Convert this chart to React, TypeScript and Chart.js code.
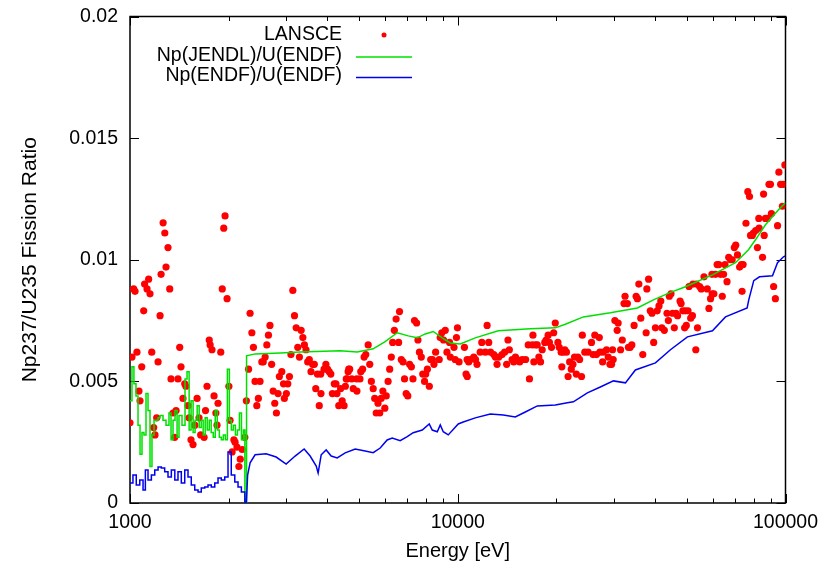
import React, { useEffect, useRef } from 'react';
import { Chart, registerables } from 'chart.js';

Chart.register(...registerables);

const FONT = '"Liberation Sans", Arial, Helvetica, sans-serif';

// LANSCE measurement: [neutron energy (eV), Np237/U235 fission ratio]
const lansce: [number, number][] = [
  [1000, 0.0033], [1014, 0.0060], [1026, 0.0088], [1036, 0.0087], [1050, 0.0062], [1065, 0.0046],
  [1073, 0.0042], [1086, 0.0056], [1101, 0.0079], [1108, 0.0090], [1127, 0.0088], [1140, 0.0092],
  [1151, 0.0086], [1165, 0.0062], [1181, 0.0031], [1192, 0.0028], [1206, 0.0035], [1218, 0.0058],
  [1235, 0.0077], [1244, 0.0094], [1262, 0.01152], [1277, 0.0111], [1288, 0.0097], [1306, 0.0105],
  [1322, 0.0088], [1334, 0.0051], [1353, 0.0037], [1369, 0.0027], [1382, 0.0038], [1401, 0.0051],
  [1418, 0.0064], [1431, 0.0056], [1451, 0.0043], [1469, 0.0049], [1481, 0.0048], [1503, 0.0040],
  [1515, 0.0035], [1535, 0.0026], [1557, 0.0024], [1576, 0.0032], [1602, 0.0043], [1624, 0.0035],
  [1643, 0.0028], [1683, 0.0027], [1700, 0.0038], [1718, 0.0048], [1745, 0.0067], [1756, 0.0065],
  [1779, 0.0063], [1805, 0.0044], [1828, 0.0037], [1843, 0.0032], [1856, 0.0041], [1892, 0.0062],
  [1912, 0.0088], [1932, 0.0113], [1950, 0.0118], [1978, 0.0084], [2003, 0.0048], [2020, 0.0034],
  [2049, 0.0021], [2075, 0.0026], [2092, 0.0025], [2120, 0.0023], [2149, 0.0015], [2170, 0.0018],
  [2200, 0.0022], [2240, 0.0027], [2265, 0.0042], [2300, 0.0055], [2325, 0.0078], [2354, 0.0070],
  [2380, 0.0064], [2407, 0.0050], [2437, 0.0040], [2464, 0.0043], [2493, 0.0050], [2525, 0.0058],
  [2550, 0.0058], [2584, 0.0060], [2615, 0.0065], [2645, 0.0069], [2673, 0.0073], [2705, 0.0057],
  [2734, 0.0046], [2765, 0.0041], [2797, 0.0037], [2830, 0.0045], [2856, 0.0052], [2905, 0.0054],
  [2940, 0.0049], [2958, 0.0043], [3000, 0.0045], [3030, 0.0049], [3065, 0.0052], [3098, 0.0061],
  [3139, 0.00874], [3176, 0.0077], [3214, 0.0072], [3250, 0.0064], [3288, 0.0060], [3328, 0.0071],
  [3368, 0.0068], [3405, 0.0065], [3444, 0.0063], [3485, 0.0058], [3524, 0.0059], [3567, 0.0054],
  [3607, 0.0057], [3650, 0.0057], [3688, 0.0047], [3730, 0.0053], [3780, 0.0040], [3820, 0.0053],
  [3825, 0.0045], [3910, 0.0055], [3960, 0.0057], [4005, 0.0055], [4053, 0.0054], [4100, 0.0053],
  [4145, 0.0045], [4200, 0.0049], [4250, 0.0049], [4280, 0.0045], [4335, 0.0040], [4390, 0.0047],
  [4440, 0.0042], [4500, 0.0040], [4540, 0.0048], [4570, 0.0051], [4600, 0.0051], [4630, 0.0054],
  [4650, 0.0055], [4680, 0.0055], [4750, 0.0051], [4800, 0.0047], [4920, 0.0051], [4925, 0.0046],
  [5030, 0.0051], [5060, 0.0054], [5125, 0.0055], [5180, 0.0060], [5240, 0.0061], [5330, 0.0065],
  [5390, 0.0057], [5450, 0.0050], [5520, 0.0047], [5580, 0.0043], [5640, 0.0037], [5710, 0.0041],
  [5780, 0.0037], [5840, 0.0043], [5910, 0.0046], [5990, 0.0039], [6050, 0.0044], [6130, 0.0050],
  [6200, 0.0055], [6270, 0.0060], [6330, 0.0066], [6405, 0.0071], [6485, 0.00756], [6600, 0.0066],
  [6642, 0.00787], [6725, 0.0059], [6810, 0.0058], [6880, 0.0051], [6960, 0.0045], [7040, 0.0044],
  [7130, 0.0057], [7220, 0.0056], [7300, 0.0051], [7380, 0.0075], [7490, 0.0074], [7560, 0.0067],
  [7640, 0.0062], [7740, 0.0060], [7820, 0.0053], [7920, 0.0050], [7985, 0.0053], [8080, 0.0055],
  [8190, 0.0048], [8270, 0.0059], [8370, 0.0059], [8460, 0.0057], [8560, 0.0062], [8780, 0.0059],
  [8840, 0.0068], [8940, 0.0070], [9050, 0.0067], [9160, 0.0071], [9270, 0.0062], [9440, 0.0066],
  [9490, 0.0060], [9740, 0.0064], [9820, 0.0059], [9910, 0.0068], [9980, 0.0072], [10090, 0.0058],
  [10480, 0.0064], [10600, 0.0053], [10680, 0.0059], [10690, 0.0052], [10800, 0.0058], [10910, 0.0059],
  [11190, 0.0060], [11330, 0.0059], [11450, 0.0057], [11710, 0.0062], [11840, 0.0066], [12140, 0.0062],
  [12290, 0.0073], [12430, 0.0066], [12590, 0.0062], [12880, 0.0061], [13030, 0.0060], [13180, 0.0057],
  [13340, 0.0060], [13650, 0.0061], [13900, 0.0062], [14100, 0.0057], [14230, 0.0067], [14370, 0.0063],
  [14650, 0.0059], [14820, 0.0058], [15000, 0.0060], [15180, 0.0059], [15450, 0.0058], [15730, 0.0059],
  [16110, 0.0059], [16410, 0.0065], [16550, 0.0051], [16880, 0.0065], [16960, 0.0069], [17070, 0.0058],
  [17270, 0.0065], [17480, 0.0065], [17680, 0.0060], [17890, 0.0058], [18100, 0.0063], [18430, 0.0066],
  [18610, 0.0067], [18870, 0.0069], [19040, 0.0066], [19320, 0.0064], [19620, 0.0070], [19840, 0.0074],
  [20210, 0.0066], [20400, 0.0064], [20680, 0.0062], [20780, 0.0056], [20970, 0.0062], [21210, 0.0063],
  [21460, 0.0062], [21710, 0.0052], [21950, 0.0058], [22200, 0.0055], [22460, 0.0057], [22710, 0.0060],
  [23000, 0.0053], [23250, 0.0060], [23540, 0.0059], [23860, 0.0052], [23990, 0.0069], [24420, 0.0062],
  [24990, 0.0062], [25590, 0.0066], [25880, 0.0061], [26200, 0.0069], [26500, 0.0061], [27030, 0.0068],
  [27140, 0.0062], [27670, 0.0058], [27780, 0.0062], [28450, 0.0063], [28780, 0.0060], [29130, 0.0057],
  [29470, 0.0057], [29670, 0.0063], [29800, 0.0059], [30160, 0.0075], [30650, 0.0071], [30860, 0.0074],
  [31390, 0.0063], [31770, 0.0067], [32160, 0.0082], [32390, 0.0085], [32930, 0.0082], [33170, 0.0064],
  [33570, 0.0064], [33970, 0.0065], [34520, 0.0073], [35010, 0.0085], [35330, 0.0084], [35690, 0.0090],
  [36180, 0.0076], [36690, 0.0061], [37570, 0.0070], [37760, 0.0088], [38220, 0.0092], [38680, 0.0079],
  [39150, 0.0078], [39610, 0.0066], [40100, 0.0072], [40600, 0.0079], [41120, 0.0081], [41640, 0.0083],
  [41950, 0.0072], [42690, 0.0071], [43500, 0.0078], [43910, 0.0075], [44220, 0.0085], [44730, 0.0086],
  [45250, 0.0078], [45790, 0.0072], [46320, 0.0078], [46850, 0.0077], [47670, 0.0083], [48020, 0.0082],
  [48620, 0.0079], [49230, 0.0072], [49450, 0.0079], [49810, 0.0073], [50410, 0.0079], [50780, 0.0089],
  [51380, 0.0076], [52000, 0.0077], [52190, 0.0090], [53250, 0.0063], [53440, 0.0090], [53880, 0.0072],
  [54700, 0.0089], [55350, 0.0088], [56410, 0.0093], [57720, 0.0088], [58400, 0.0080], [59070, 0.0084],
  [59640, 0.0094], [59760, 0.0086], [60450, 0.0086], [61170, 0.0094], [61870, 0.0098], [62600, 0.0098],
  [63330, 0.0094], [64140, 0.0085], [64710, 0.0094], [65360, 0.0098], [66310, 0.0091], [67100, 0.0101],
  [67920, 0.0100], [68750, 0.0100], [69800, 0.0105], [70490, 0.0106], [71370, 0.0102], [72440, 0.0097],
  [73330, 0.0098], [73700, 0.0087], [74240, 0.0098], [75750, 0.0115], [76740, 0.0128], [77660, 0.0126],
  [78210, 0.0110], [79200, 0.0110], [79800, 0.0111], [81100, 0.0112], [82100, 0.0105], [82900, 0.0117],
  [83100, 0.0113], [85100, 0.0101], [85720, 0.0127], [86100, 0.0110], [86870, 0.0117], [88000, 0.0117],
  [89050, 0.0131], [89980, 0.0131], [90580, 0.0119], [91990, 0.0089], [93140, 0.0084], [94570, 0.0114],
  [95450, 0.0136], [96640, 0.0131], [97820, 0.0122], [98280, 0.0131], [99570, 0.0139],
];

// Np(JENDL)/U(ENDF): resolved-resonance region as histogram bins (bin start energy, value)
const jendlBinStart = [
  1000, 1014, 1028, 1043, 1058, 1073, 1088, 1103, 1119, 1135, 1151, 1167, 1184, 1201, 1218, 1235,
  1261, 1288, 1315, 1334, 1353, 1372, 1392, 1411, 1441, 1472, 1493, 1515, 1536, 1558, 1580, 1603,
  1626, 1649, 1672, 1696, 1720, 1745, 1769, 1795, 1820, 1846, 1873, 1899, 1926, 1954, 1982, 2010,
  2038, 2067, 2097, 2127, 2157, 2188, 2219,
];
const jendlBinValue = [
  0.0042, 0.0056, 0.0049, 0.0044, 0.0032, 0.0020, 0.0029, 0.0028, 0.0045, 0.0038, 0.0015, 0.0028,
  0.0034, 0.0034, 0.0035, 0.0036, 0.0034, 0.0032, 0.0037, 0.0026, 0.0034, 0.0038, 0.0027, 0.0036,
  0.0032, 0.0051, 0.0054, 0.0030, 0.0042, 0.0029, 0.0034, 0.0040, 0.0031, 0.0034, 0.0028, 0.0035,
  0.0030, 0.0034, 0.0029, 0.0027, 0.0038, 0.0030, 0.0027, 0.0026, 0.0028, 0.0026, 0.0055, 0.0034,
  0.0030, 0.0032, 0.0028, 0.0030, 0.0037, 0.0026, 0.0030,
];
const jendlBinEnd = 2241;
// Np(JENDL)/U(ENDF) above the resonance region: [energy (eV), ratio]
const jendlCurve: [number, number][] = [
  [2241, 0], [2265, 0], [2268, 0.00605], [2408, 0.00613], [2871, 0.00617], [3304, 0.00621],
  [4377, 0.00626], [4932, 0.00621], [5521, 0.00634], [6005, 0.00663], [6537, 0.00700], [7063, 0.00687],
  [7521, 0.00679], [7958, 0.00695], [8419, 0.00705], [8967, 0.00679], [9486, 0.00658], [10177, 0.00654],
  [11310, 0.00679], [13295, 0.00708], [16650, 0.00716], [19850, 0.00720], [21290, 0.00735],
  [24170, 0.00765], [29220, 0.00782], [35330, 0.00802], [39540, 0.00835], [44560, 0.00866],
  [49520, 0.00889], [59860, 0.00938], [70370, 0.00988], [77090, 0.01041], [80990, 0.01082],
  [86870, 0.01144], [95200, 0.01206], [100000, 0.01235],
];

// Np(ENDF)/U(ENDF): resolved-resonance region as histogram bins
const endfBinStart = [
  1000, 1021, 1045, 1071, 1096, 1114, 1135, 1162, 1190, 1218, 1246, 1276, 1306, 1337, 1370, 1401,
  1434, 1469, 1503, 1538, 1576, 1613, 1650, 1691, 1730, 1770, 1814, 1856, 1899, 1946, 1991, 2037,
  2088, 2136, 2187,
];
const endfBinValue = [
  0.00082, 0.00115, 0.00074, 0.00095, 0.00053, 0.00136, 0.00095, 0.00115, 0.00136, 0.00148, 0.00144,
  0.00128, 0.00107, 0.00136, 0.00095, 0.00128, 0.00082, 0.00136, 0.00107, 0.00074, 0.00053, 0.00045,
  0.00062, 0.00066, 0.00074, 0.00066, 0.00082, 0.00103, 0.00095, 0.00107, 0.00210, 0.00115, 0.00086,
  0.00066, 0.00045,
];
const endfBinEnd = 2241;
// Np(ENDF)/U(ENDF) above the resonance region
const endfCurve: [number, number][] = [
  [2241, 0], [2265, 0], [2285, 0.00115], [2325, 0.00165], [2408, 0.00198], [2602, 0.00202],
  [2792, 0.00189], [2995, 0.00160], [3190, 0.00193], [3399, 0.00222], [3545, 0.00193], [3700, 0.00152],
  [3750, 0.00123], [3831, 0.00198], [3968, 0.00218], [4110, 0.00193], [4287, 0.00185], [4535, 0.00206],
  [4864, 0.00222], [5219, 0.00214], [5521, 0.00207], [5799, 0.00226], [6090, 0.00259], [6310, 0.00267],
  [6674, 0.00256], [7012, 0.00273], [7314, 0.00289], [7793, 0.00300], [8185, 0.00325], [8360, 0.00300],
  [8660, 0.00293], [8844, 0.00321], [9031, 0.00293], [9354, 0.00280], [10035, 0.00325], [10394, 0.00333],
  [11310, 0.00350], [12570, 0.00366], [13770, 0.00362], [14985, 0.00354], [16075, 0.00374],
  [17490, 0.00399], [19850, 0.00403], [21600, 0.00412], [22530, 0.00416], [24860, 0.00453],
  [27230, 0.00477], [29850, 0.00502], [32480, 0.00494], [34830, 0.00547], [40100, 0.00576],
  [44560, 0.00630], [50210, 0.00683], [59860, 0.00708], [65600, 0.00765], [76380, 0.00802],
  [77250, 0.00835], [80010, 0.00914], [83280, 0.00930], [91270, 0.00934], [94540, 0.00988],
  [98610, 0.01012], [100000, 0.01016],
];

const xMajorTicks = [1000, 10000, 100000];
const yTicks = [0, 0.005, 0.01, 0.015, 0.02];

const seriesLabels = ['LANSCE', 'Np(JENDL)/U(ENDF)', 'Np(ENDF)/U(ENDF)'];
const seriesColors = ['#ff0000', '#00e000', '#0000f0'];

type Pt = { x: number; y: number };

function histogram(starts: number[], values: number[], end: number): Pt[] {
  const pts: Pt[] = [];
  starts.forEach((s, i) => {
    const next = i + 1 < starts.length ? starts[i + 1] : end;
    pts.push({ x: s, y: values[i] }, { x: next, y: values[i] });
  });
  return pts;
}

const toPts = (arr: [number, number][]): Pt[] => arr.map(([x, y]) => ({ x, y }));

// Closed border with inward tick marks on all four sides
const framePlugin = {
  id: 'frame',
  beforeDatasetsDraw(chart: any) {
    const { ctx, chartArea: a, scales } = chart;
    const xs = scales.x;
    const ys = scales.y;
    const major = 9;
    const minor = 4.5;
    ctx.save();
    ctx.strokeStyle = '#000';
    ctx.lineWidth = 1;
    ctx.beginPath();
    const vtick = (v: number, len: number) => {
      const px = Math.round(xs.getPixelForValue(v)) + 0.5;
      ctx.moveTo(px, a.bottom);
      ctx.lineTo(px, a.bottom - len);
      ctx.moveTo(px, a.top);
      ctx.lineTo(px, a.top + len);
    };
    xMajorTicks.forEach((v) => vtick(v, major));
    for (let d = 0; d < xMajorTicks.length - 1; d++) {
      for (let k = 2; k <= 9; k++) vtick(k * xMajorTicks[d], minor);
    }
    yTicks.forEach((v) => {
      const py = Math.round(ys.getPixelForValue(v)) + 0.5;
      ctx.moveTo(a.left, py);
      ctx.lineTo(a.left + major, py);
      ctx.moveTo(a.right, py);
      ctx.lineTo(a.right - major, py);
    });
    ctx.stroke();
    ctx.lineWidth = 1.5;
    ctx.strokeRect(a.left, a.top, a.right - a.left, a.bottom - a.top);
    ctx.restore();
  },
};

// Key in the upper left of the plot: label right-aligned, sample to its right
const keyPlugin = {
  id: 'key',
  afterDatasetsDraw(chart: any) {
    const { ctx, chartArea: a } = chart;
    ctx.save();
    ctx.font = `19.5px ${FONT}`;
    ctx.textAlign = 'right';
    ctx.textBaseline = 'middle';
    chart.data.datasets.forEach((ds: any, i: number) => {
      const yy = a.top + 18.5 + i * 20.5;
      ctx.fillStyle = '#000';
      ctx.fillText(ds.label, a.left + 212, yy);
      const x0 = a.left + 226;
      const x1 = a.left + 282;
      if (ds.showLine === false) {
        ctx.fillStyle = ds.backgroundColor;
        ctx.beginPath();
        ctx.arc((x0 + x1) / 2, yy, 2.5, 0, Math.PI * 2);
        ctx.fill();
      } else {
        ctx.strokeStyle = ds.borderColor;
        ctx.lineWidth = ds.borderWidth;
        ctx.beginPath();
        ctx.moveTo(x0, yy + 1.5);
        ctx.lineTo(x1, yy + 1.5);
        ctx.stroke();
      }
    });
    ctx.restore();
  },
};

export default function App() {
  const canvasRef = useRef<HTMLCanvasElement | null>(null);

  useEffect(() => {
    const canvas = canvasRef.current;
    if (!canvas) return;
    Chart.defaults.font.family = FONT;
    Chart.defaults.font.size = 19.5;
    Chart.defaults.color = '#000';

    const chart = new Chart(canvas, {
      type: 'scatter',
      data: {
        datasets: [
          {
            label: seriesLabels[0],
            data: toPts(lansce),
            showLine: false,
            pointRadius: 3.6,
            pointBorderWidth: 0,
            backgroundColor: seriesColors[0],
            borderColor: seriesColors[0],
            order: 3,
          },
          {
            label: seriesLabels[1],
            data: [...histogram(jendlBinStart, jendlBinValue, jendlBinEnd), ...toPts(jendlCurve)],
            showLine: true,
            pointRadius: 0,
            borderWidth: 1.5,
            borderColor: seriesColors[1],
            backgroundColor: seriesColors[1],
            order: 2,
          },
          {
            label: seriesLabels[2],
            data: [...histogram(endfBinStart, endfBinValue, endfBinEnd), ...toPts(endfCurve)],
            showLine: true,
            pointRadius: 0,
            borderWidth: 1.5,
            borderColor: seriesColors[2],
            backgroundColor: seriesColors[2],
            order: 1,
          },
        ],
      },
      options: {
        responsive: false,
        animation: false,
        events: [],
        layout: { padding: { left: 0, right: 37.5, top: 16.5, bottom: 0 } },
        plugins: { legend: { display: false }, tooltip: { enabled: false } },
        scales: {
          x: {
            type: 'logarithmic',
            min: 1000,
            max: 100000,
            grid: { display: false, drawTicks: false },
            border: { display: false },
            afterBuildTicks: (s: any) => {
              s.ticks = xMajorTicks.map((v) => ({ value: v, major: true }));
            },
            ticks: {
              autoSkip: false,
              maxRotation: 0,
              padding: 8,
              callback: (v: any) => String(v),
            },
            title: { display: true, text: 'Energy [eV]', font: { size: 20 }, padding: { top: 0, bottom: 4 } },
            afterFit: (s: any) => {
              s.height = 64;
              s.paddingLeft = 0;
              s.paddingRight = 0;
            },
          },
          y: {
            min: 0,
            max: 0.02,
            grid: { display: false, drawTicks: false },
            border: { display: false },
            afterBuildTicks: (s: any) => {
              s.ticks = yTicks.map((v) => ({ value: v }));
            },
            ticks: {
              padding: 12,
              callback: (v: any) => String(Number(Number(v).toFixed(4))),
            },
            title: {
              display: true,
              text: 'Np237/U235 Fission Ratio',
              font: { size: 21 },
              padding: { top: 17.5, bottom: 0 },
            },
            afterFit: (s: any) => {
              s.width = 130;
              s.paddingTop = 0;
              s.paddingBottom = 0;
            },
          },
        },
      },
      plugins: [framePlugin, keyPlugin],
    });
    return () => chart.destroy();
  }, []);

  return (
    <div style={{ position: 'absolute', left: 0, top: 0, width: 823, height: 567, background: '#fff' }}>
      <canvas ref={canvasRef} width={823} height={567} style={{ display: 'block' }} />
    </div>
  );
}
